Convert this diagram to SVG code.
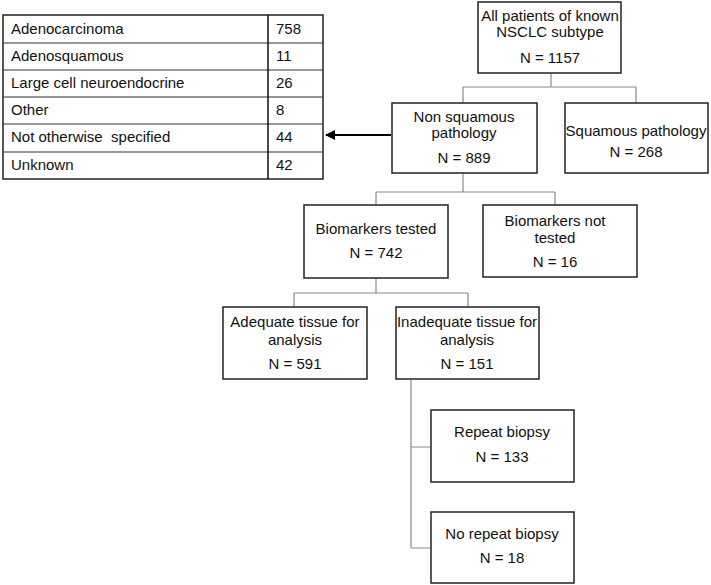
<svg xmlns="http://www.w3.org/2000/svg" width="711" height="585" viewBox="0 0 711 585">
<style>
.box{fill:#fff;stroke:#222;stroke-width:1.5}
.t{font-family:"Liberation Sans",Arial,sans-serif;font-size:15px;fill:#111;text-anchor:middle}
.tl{font-family:"Liberation Sans",Arial,sans-serif;font-size:15px;fill:#111}
.c{fill:none;stroke:#8a8a8a;stroke-width:1.2}
.g{stroke:#333;stroke-width:1.2}
</style>
<defs>
<marker id="ah" markerWidth="10" markerHeight="10" refX="9" refY="5" orient="auto" markerUnits="userSpaceOnUse">
<path d="M0,0 L10,5 L0,10 Z" fill="#000"/>
</marker>
</defs>
<g id="table">
<rect x="3" y="15" width="320" height="164" fill="#fff" stroke="#222" stroke-width="1.5"/>
<line class="g" x1="3" y1="43" x2="323" y2="43"/>
<line class="g" x1="3" y1="70" x2="323" y2="70"/>
<line class="g" x1="3" y1="97" x2="323" y2="97"/>
<line class="g" x1="3" y1="124" x2="323" y2="124"/>
<line class="g" x1="3" y1="152" x2="323" y2="152"/>
<line x1="268" y1="15" x2="268" y2="179" stroke="#111" stroke-width="1.5"/>
<text class="tl" x="11" y="34">Adenocarcinoma</text>
<text class="tl" x="11" y="61">Adenosquamous</text>
<text class="tl" x="11" y="88">Large cell neuroendocrine</text>
<text class="tl" x="11" y="115">Other</text>
<text class="tl" x="11" y="142" xml:space="preserve">Not otherwise  specified</text>
<text class="tl" x="11" y="170">Unknown</text>
<text class="tl" x="276" y="34">758</text>
<text class="tl" x="276" y="61">11</text>
<text class="tl" x="276" y="88">26</text>
<text class="tl" x="276" y="115">8</text>
<text class="tl" x="276" y="142">44</text>
<text class="tl" x="276" y="170">42</text>
</g>
<g id="connectors">
<path class="c" d="M551,73 V87 M463,87 H636 M463,87 V103 M636,87 V103"/>
<path class="c" d="M463,173 V192 M376,192 H555 M376,192 V205 M555,192 V205"/>
<path class="c" d="M376,278 V293 M294,293 H468 M294,293 V307 M468,293 V307"/>
<path class="c" d="M411,379 V548 M411,447 H431 M411,548 H431"/>
<line x1="391" y1="135" x2="326" y2="135" stroke="#000" stroke-width="2" marker-end="url(#ah)"/>
</g>
<g id="all">
<rect class="box" x="478" y="2" width="143" height="71"/>
<text class="t" x="550" y="21">All patients of known</text>
<text class="t" x="550" y="37">NSCLC subtype</text>
<text class="t" x="550" y="63">N = 1157</text>
</g>
<g id="nonsq">
<rect class="box" x="392" y="103" width="145" height="70"/>
<text class="t" x="464" y="122">Non squamous</text>
<text class="t" x="464" y="138">pathology</text>
<text class="t" x="464" y="163">N = 889</text>
</g>
<g id="sq">
<rect class="box" x="565" y="103" width="143" height="70"/>
<text class="t" x="636" y="136">Squamous pathology</text>
<text class="t" x="636" y="157">N = 268</text>
</g>
<g id="biotested">
<rect class="box" x="304" y="205" width="144" height="73"/>
<text class="t" x="376" y="234">Biomarkers tested</text>
<text class="t" x="376" y="258">N = 742</text>
</g>
<g id="bionot">
<rect class="box" x="483" y="205" width="154" height="72"/>
<text class="t" x="555" y="226">Biomarkers not</text>
<text class="t" x="555" y="243">tested</text>
<text class="t" x="555" y="267">N = 16</text>
</g>
<g id="adequate">
<rect class="box" x="223" y="307" width="144" height="72"/>
<text class="t" x="295" y="327">Adequate tissue for</text>
<text class="t" x="295" y="345">analysis</text>
<text class="t" x="295" y="369">N = 591</text>
</g>
<g id="inadequate">
<rect class="box" x="396" y="307" width="143" height="72"/>
<text class="t" x="467" y="327">Inadequate tissue for</text>
<text class="t" x="467" y="345">analysis</text>
<text class="t" x="467" y="369">N = 151</text>
</g>
<g id="repeat">
<rect class="box" x="431" y="410" width="143" height="72"/>
<text class="t" x="502" y="437">Repeat biopsy</text>
<text class="t" x="502" y="462">N = 133</text>
</g>
<g id="norepeat">
<rect class="box" x="431" y="512" width="143" height="71"/>
<text class="t" x="502" y="539">No repeat biopsy</text>
<text class="t" x="502" y="563">N = 18</text>
</g>
</svg>
